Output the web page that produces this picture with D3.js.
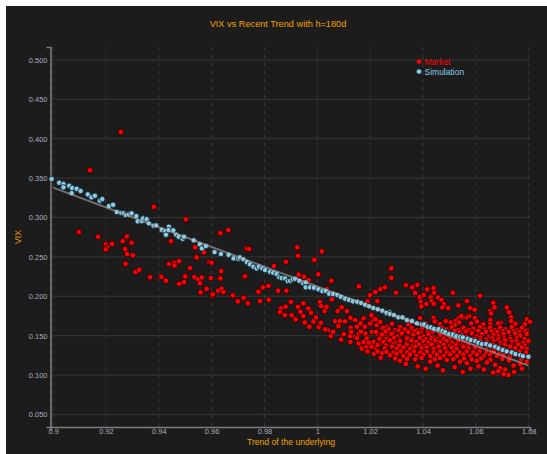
<!DOCTYPE html>
<html>
<head>
<meta charset="utf-8">
<script src="https://cdn.jsdelivr.net/npm/d3@7"></script>
<style>
  body { margin: 0; background: #fff; }
  svg { display: block; }
  text { font-family: "Liberation Sans", Arial, sans-serif; }
</style>
</head>
<body>
<div id="chart"></div>
<script>
const chartTitle = 'VIX vs Recent Trend with h=180d';
const xLabel = 'Trend of the underlying';
const yLabel = 'VIX';
const seriesNames = ['Market', 'Simulation'];
const xTicks = [0.9, 0.92, 0.94, 0.96, 0.98, 1, 1.02, 1.04, 1.06, 1.08];
const yTicks = [0.05, 0.1, 0.15, 0.2, 0.25, 0.3, 0.35, 0.4, 0.45, 0.5];

// fitted trend line at both ends
const fitX = [0.9, 1.08];
const fitY = [0.338, 0.112];

// simulation points [trend, vix]
const simulation = [
  [0.8994,0.3488],[0.9023,0.3441],[0.9039,0.3425],[0.9039,0.3383],[0.9061,0.3403],[0.9072,0.3374],[0.907,0.331],
  [0.9089,0.3365],[0.9104,0.3336],[0.9131,0.3294],[0.9145,0.3256],[0.9158,0.3276],[0.9177,0.3213],[0.9186,0.3234],
  [0.9211,0.3145],[0.9227,0.3162],[0.9241,0.3069],[0.9258,0.3057],[0.9267,0.3053],[0.9275,0.3031],[0.9286,0.304],
  [0.9297,0.3053],[0.9315,0.3018],[0.932,0.2951],[0.9335,0.2955],[0.934,0.2989],[0.9354,0.2977],[0.9362,0.2926],
  [0.938,0.2896],[0.939,0.29],[0.9411,0.2844],[0.9424,0.2824],[0.9438,0.2883],[0.9437,0.284],[0.9455,0.2837],
  [0.9427,0.2781],[0.9466,0.2781],[0.9475,0.2756],[0.949,0.273],[0.9495,0.2756],[0.9532,0.271],[0.9555,0.2659],
  [0.9563,0.2608],[0.9578,0.2637],[0.9611,0.2561],[0.9635,0.2536],[0.9664,0.2527],[0.9683,0.2481],[0.9701,0.2476],
  [0.9707,0.2494],[0.972,0.2469],[0.9733,0.2434],[0.9745,0.2405],[0.9758,0.2375],[0.977,0.2354],[0.9779,0.2375],
  [0.9792,0.2354],[0.9802,0.2333],[0.9821,0.2311],[0.9833,0.2298],[0.9846,0.2282],[0.9856,0.224],[0.9865,0.2231],
  [0.9878,0.2227],[0.9888,0.2193],[0.9897,0.2197],[0.9907,0.2214],[0.9916,0.2222],[0.9932,0.2197],[0.9947,0.2164],
  [0.9956,0.2176],[0.9956,0.2113],[0.9972,0.2113],[0.9987,0.2108],[1.0004,0.2088],[1.0019,0.2066],[1.0032,0.207],
  [1.0045,0.2032],[1.006,0.2028],[1.0076,0.2015],[1.0089,0.1994],[1.0105,0.1968],[1.012,0.1952],[1.0135,0.1935],
  [1.0151,0.193],[1.0166,0.1914],[1.0181,0.1892],[1.0196,0.1872],[1.0212,0.185],[1.0229,0.1834],[1.0246,0.1816],
  [1.0261,0.1783],[1.0274,0.1795],[1.0262,0.179],[1.0275,0.1774],[1.029,0.1761],[1.0307,0.1732],[1.0322,0.1732],
  [1.0339,0.1698],[1.0358,0.1685],[1.0377,0.1656],[1.0396,0.1647],[1.0404,0.1643],[1.0418,0.1613],[1.043,0.1605],
  [1.0442,0.1587],[1.0459,0.1583],[1.0474,0.1562],[1.0484,0.1545],[1.0499,0.152],[1.0513,0.1516],[1.0526,0.1494],
  [1.0541,0.1486],[1.0551,0.1478],[1.0569,0.146],[1.0581,0.1444],[1.0598,0.1431],[1.061,0.1409],[1.0623,0.1393],
  [1.0639,0.1393],[1.0654,0.1376],[1.0673,0.1359],[1.0686,0.1338],[1.0702,0.1317],[1.0717,0.13],[1.0736,0.1287],
  [1.075,0.1266],[1.0768,0.1253],[1.0778,0.124],[1.0799,0.1232]
];

// market points [trend, vix]
const market = [
  // sparse left part
  [0.9256,0.4085],[0.914,0.360],[0.9097,0.2815],[0.917,0.2756],[0.9199,0.266],[0.9205,0.262],[0.9199,0.2596],
  [0.9223,0.2667],[0.9263,0.270],[0.9279,0.276],[0.9297,0.268],[0.9273,0.260],[0.928,0.2536],[0.9302,0.252],
  [0.9274,0.2413],[0.9312,0.2307],[0.9326,0.2336],[0.9367,0.224],[0.9381,0.3137],[0.9409,0.2248],[0.9427,0.2197],
  [0.9438,0.2409],[0.9446,0.270],[0.9458,0.2425],[0.946,0.2392],[0.9477,0.2447],[0.9502,0.2977],[0.9518,0.2358],
  [0.95,0.2253],[0.9496,0.218],[0.9477,0.2159],[0.9534,0.2244],[0.9549,0.2215],[0.9563,0.224],[0.9543,0.2494],
  [0.9538,0.2621],[0.9571,0.2557],[0.9556,0.2164],[0.9558,0.2049],[0.9581,0.2095],[0.9591,0.2434],[0.96,0.2425],
  [0.9597,0.2231],[0.9602,0.2002],[0.9604,0.2024],[0.9633,0.2802],[0.9636,0.232],[0.9633,0.2227],[0.9625,0.207],
  [0.9638,0.2095],[0.9645,0.2053],[0.9663,0.284],[0.968,0.2011],[0.9699,0.1935],
  // middle
  [0.9733,0.2608],[0.9742,0.260],[0.9924,0.2621],[0.9927,0.2514],[1.0017,0.257],[0.9881,0.2438],[0.9989,0.2463],
  [0.9836,0.2383],[0.9726,0.2253],[1.0004,0.2278],[0.9929,0.2273],[0.995,0.2248],[0.9967,0.2206],[1.0053,0.2197],
  [0.9777,0.2057],[0.9794,0.2113],[0.9815,0.2133],[0.9852,0.207],[0.9883,0.207],[0.9721,0.1981],[0.9737,0.191],
  [0.9783,0.1939],[0.9816,0.1955],[1.0157,0.2126],[1.0199,0.2015],[1.0219,0.2053],[1.0239,0.2091],[1.0258,0.2113],
  [1.0227,0.1939],[1.019,0.1935],[1.0055,0.196],[0.99,0.193],[0.9947,0.191],[1.001,0.193],[1.0014,0.1875],
  [1.0035,0.2095],[0.9862,0.1846],[0.988,0.1867],[0.9858,0.18],[0.9877,0.176],[0.9903,0.176],[0.9926,0.1867],
  [0.9936,0.1803],[0.9947,0.1748],[0.9918,0.1707],[0.9966,0.1846],[0.9976,0.179],[0.9995,0.1732],[0.9952,0.1668],
  [0.9985,0.1681],[0.997,0.1613],[1.0005,0.1609],[1.0014,0.1663],[1.0028,0.1812],[1.0035,0.1867],[1.004,0.1571],
  [1.0051,0.1494],[1.0067,0.1685],[1.0085,0.1685],[1.0077,0.1812],[1.0092,0.1859],[1.0112,0.1812],[1.0125,0.1727],
  [1.0143,0.1698],[1.0126,0.16],[1.015,0.1613],[1.0124,0.1494],[1.0143,0.1486],[1.0156,0.152],[1.0128,0.1549],
  [1.0168,0.1338],[1.0187,0.1359],[1.0164,0.1655],[1.018,0.1613],[1.02,0.1655],[1.0212,0.1697],[1.0225,0.1634],
  [1.0238,0.1676],[1.0244,0.1592],[1.0263,0.1613],[1.0206,0.1549],[1.0225,0.1528],[1.025,0.1486],[1.0269,0.1528],
  [1.0187,0.1465],[1.0212,0.1422],[1.0238,0.1401],[1.0263,0.138],[1.0181,0.1528],[1.0156,0.1401],[1.0215,0.127],
  [1.024,0.122],[1.019,0.13],
  [1.003,0.158],[1.006,0.155],[1.008,0.162],[1.01,0.152],[1.009,0.145],[1.0125,0.142],[1.015,0.147],[1.0175,0.142],
  [1.0165,0.155],[1.0105,0.168],[1.0175,0.172],[1.0205,0.176],[1.022,0.171],[1.0195,0.141],[1.0222,0.134],
  [1.0205,0.136],[1.0245,0.128],[1.0228,0.13],
  // upper edge of the right cluster
  [1.028,0.2354],[1.028,0.2235],[1.0256,0.2113],[1.0298,0.2044],[1.0335,0.2142],[1.0359,0.2113],[1.0379,0.2146],
  [1.037,0.2044],[1.0402,0.2015],[1.0416,0.2088],[1.044,0.2104],[1.0442,0.2044],[1.0391,0.1939],[1.0387,0.199],
  [1.0429,0.1986],[1.0433,0.1939],[1.0457,0.1986],[1.047,0.1952],[1.0479,0.1901],[1.0441,0.1905],[1.0513,0.2044],
  [1.0394,0.1872],[1.0413,0.1901],[1.0473,0.1859],[1.0495,0.185],[1.0534,0.1884],[1.0566,0.1939],[1.0616,0.2006],
  [1.0578,0.185],[1.0595,0.1829],[1.0666,0.1918],[1.0671,0.1859],[1.0717,0.1859],[1.0654,0.1812],[1.0658,0.1783],
  [1.0726,0.1795],[1.0734,0.1732],[1.0734,0.1685],[1.0694,0.1663],[1.0655,0.1698],[1.0655,0.1643],[1.0793,0.1707],
  [1.0805,0.1676],[1.0597,0.172],[1.0604,0.1681],[1.0575,0.1748],[1.0564,0.1732],[1.0551,0.1732],[1.0536,0.1727],
  [1.0545,0.1748],[1.044,0.1727],[1.0444,0.1681],[1.0389,0.1723],[1.0486,0.1685],[1.0506,0.1668],[1.0525,0.1689],
  [1.0536,0.1668],
  // dense band
  [1.0283,0.165],[1.0345,0.1645],[1.041,0.1655],[1.0465,0.1645],[1.052,0.1635],[1.0582,0.1655],[1.0628,0.1645],
  [1.0685,0.1655],[1.075,0.165],[1.0785,0.1645],
  [1.025,0.160],[1.0269,0.158],[1.0294,0.157],[1.0313,0.161],[1.0332,0.158],[1.0357,0.160],[1.0376,0.157],
  [1.0395,0.159],[1.0427,0.161],[1.0452,0.157],[1.0471,0.160],[1.049,0.158],[1.0509,0.161],[1.0534,0.157],
  [1.0553,0.160],[1.0572,0.157],[1.0591,0.159],[1.0616,0.161],[1.0635,0.158],[1.0654,0.160],[1.0673,0.157],
  [1.0692,0.160],[1.0711,0.158],[1.0736,0.161],[1.0755,0.157],[1.0774,0.160],[1.0793,0.157],
  [1.0222,0.155],[1.0258,0.1555],[1.0286,0.154],[1.031,0.1565],[1.0345,0.1545],[1.0368,0.1555],[1.0392,0.154],
  [1.0418,0.156],[1.0436,0.1548],[1.046,0.1553],[1.0495,0.1545],[1.052,0.1558],[1.054,0.1542],[1.0562,0.1555],
  [1.059,0.1545],[1.061,0.156],[1.0638,0.1548],[1.066,0.1555],[1.068,0.1543],[1.0702,0.1558],[1.0725,0.1547],
  [1.0745,0.156],[1.0765,0.1545],[1.0788,0.1555],
  [1.0244,0.151],[1.0263,0.148],[1.0282,0.152],[1.0301,0.149],[1.032,0.153],[1.0338,0.148],[1.0364,0.151],
  [1.0383,0.153],[1.0402,0.149],[1.0421,0.152],[1.044,0.148],[1.0465,0.151],[1.0484,0.149],[1.0503,0.152],
  [1.0522,0.148],[1.0547,0.151],[1.0566,0.149],[1.0585,0.153],[1.0604,0.149],[1.0623,0.152],[1.0648,0.148],
  [1.0667,0.151],[1.0686,0.149],[1.0705,0.152],[1.073,0.148],[1.0749,0.153],[1.0768,0.150],[1.0793,0.152],
  [1.0235,0.146],[1.0262,0.1455],[1.029,0.1468],[1.0312,0.1452],[1.034,0.1465],[1.036,0.1455],[1.0388,0.147],
  [1.041,0.1455],[1.0432,0.1466],[1.0455,0.1452],[1.0478,0.1463],[1.05,0.1457],[1.0525,0.1468],[1.0548,0.1453],
  [1.0572,0.1465],[1.0595,0.1455],[1.0618,0.147],[1.064,0.1455],[1.0663,0.1465],[1.0685,0.1452],[1.0708,0.1467],
  [1.0732,0.1455],[1.0755,0.1466],[1.0785,0.1458],
  [1.025,0.142],[1.0275,0.144],[1.0294,0.141],[1.0313,0.143],[1.0338,0.141],[1.0357,0.144],[1.0376,0.142],
  [1.0402,0.143],[1.0421,0.141],[1.0446,0.144],[1.0465,0.142],[1.049,0.143],[1.0509,0.141],[1.0534,0.144],
  [1.0553,0.142],[1.0579,0.143],[1.0598,0.141],[1.0616,0.144],[1.0642,0.142],[1.0667,0.143],[1.0692,0.141],
  [1.0711,0.144],[1.0736,0.142],[1.0755,0.143],[1.078,0.141],[1.0799,0.143],
  [1.0228,0.138],[1.026,0.1375],[1.0285,0.139],[1.031,0.1373],[1.0338,0.1388],[1.0362,0.1375],[1.0385,0.1385],
  [1.0408,0.1372],[1.0432,0.1388],[1.0455,0.1376],[1.048,0.1385],[1.0503,0.1372],[1.0526,0.1387],[1.0548,0.1376],
  [1.0572,0.1388],[1.0594,0.1373],[1.0618,0.1386],[1.064,0.1375],[1.0665,0.1388],[1.0688,0.1374],[1.071,0.1385],
  [1.0735,0.1375],[1.076,0.1388],[1.0785,0.1377],
  [1.0256,0.134],[1.0282,0.136],[1.0301,0.133],[1.0326,0.135],[1.0351,0.133],[1.037,0.136],[1.0395,0.134],
  [1.0414,0.135],[1.044,0.133],[1.0459,0.136],[1.0484,0.134],[1.0509,0.135],[1.0528,0.133],[1.0553,0.136],
  [1.0572,0.134],[1.0598,0.135],[1.0616,0.133],[1.0642,0.136],[1.0661,0.134],[1.0686,0.135],[1.0705,0.133],
  [1.073,0.136],[1.0749,0.134],[1.0774,0.135],[1.0793,0.133],
  [1.0262,0.1295],[1.0288,0.1285],[1.0315,0.13],[1.034,0.1288],[1.0365,0.13],[1.039,0.1287],[1.0415,0.1298],
  [1.044,0.1285],[1.0465,0.13],[1.049,0.1288],[1.0515,0.1297],[1.054,0.1285],[1.0565,0.1298],[1.059,0.1287],
  [1.0615,0.13],[1.064,0.1285],[1.0668,0.1297],[1.0692,0.1287],[1.0718,0.1295],[1.0742,0.1285],[1.0765,0.1298],
  [1.079,0.1288],
  [1.0275,0.125],[1.03,0.127],[1.0326,0.124],[1.0351,0.126],[1.0376,0.124],[1.0402,0.126],[1.0427,0.124],
  [1.0452,0.126],[1.0478,0.124],[1.0503,0.126],[1.0528,0.124],[1.0553,0.126],[1.0579,0.124],[1.0604,0.126],
  [1.0629,0.124],[1.0654,0.126],[1.068,0.124],[1.0705,0.126],[1.073,0.124],[1.0755,0.126],[1.078,0.124],
  [1.0295,0.121],[1.034,0.1205],[1.0395,0.1215],[1.0445,0.12],[1.0465,0.1215],[1.0515,0.12],[1.0555,0.121],
  [1.0585,0.1198],[1.062,0.121],[1.0655,0.1195],[1.07,0.1205],[1.0725,0.1185],[1.0772,0.12],[1.0798,0.121],
  [1.0313,0.118],[1.037,0.120],[1.0427,0.117],[1.049,0.119],[1.054,0.117],[1.0566,0.115],[1.0604,0.118],
  [1.0642,0.116],[1.0673,0.113],[1.0692,0.109],[1.0711,0.107],[1.0724,0.1],[1.0743,0.112],[1.0768,0.114],
  [1.0793,0.117],
  [1.038,0.111],[1.0455,0.112],[1.052,0.11],[1.058,0.108],[1.063,0.107],[1.0665,0.103],[1.0705,0.101],
  [1.0335,0.114],[1.041,0.108],[1.0475,0.106],[1.055,0.104],[1.061,0.111],[1.0685,0.105],[1.0745,0.104],
  [1.0775,0.108]
];

const width = 547;
const height = 454;
const plot = { left: 50.5, right: 530, top: 47, bottom: 427 };

const svg = d3.select('#chart').append('svg')
  .attr('width', width)
  .attr('height', height);

svg.append('rect')
  .attr('x', 6)
  .attr('y', 6)
  .attr('width', width - 6)
  .attr('height', height - 6)
  .attr('fill', '#1c1c1c');

const x = d3.scaleLinear().domain([0.899, 1.0805]).range([plot.left, plot.right]);
const y = d3.scaleLinear().domain([0.034, 0.5165]).range([plot.bottom, plot.top]);

// grid
svg.append('g').classed('grid-y', true)
  .selectAll('line')
  .data(yTicks)
  .enter()
  .append('line')
  .attr('x1', plot.left)
  .attr('x2', plot.right)
  .attr('y1', d => y(d))
  .attr('y2', d => y(d))
  .style('stroke', '#353535')
  .style('stroke-width', 1);

svg.append('g').classed('grid-x', true)
  .selectAll('line')
  .data(xTicks)
  .enter()
  .append('line')
  .attr('x1', d => x(d))
  .attr('x2', d => x(d))
  .attr('y1', plot.top)
  .attr('y2', plot.bottom)
  .style('stroke', '#383838')
  .style('stroke-width', 1)
  .style('stroke-dasharray', '4,4');

// axes
const xAxis = svg.append('g')
  .attr('transform', `translate(0, ${plot.bottom})`)
  .call(d3.axisBottom(x).tickValues(xTicks).tickFormat(d3.format('~g')).tickSizeInner(0).tickSizeOuter(4).tickPadding(2));
const yAxis = svg.append('g')
  .attr('transform', `translate(${plot.left}, 0)`)
  .call(d3.axisLeft(y).tickValues(yTicks).tickFormat(d3.format('.3f')).tickSizeInner(0).tickSizeOuter(4).tickPadding(3));

[xAxis, yAxis].forEach(a => {
  a.select('.domain').style('stroke', '#7d7d7d').style('stroke-width', 1.6);
  a.selectAll('text')
    .style('fill', '#a7afbd')
    .style('font-size', '7.5px')
    .style('font-family', '"Liberation Sans", Arial, sans-serif');
});

// points
svg.append('g').classed('market', true)
  .selectAll('circle')
  .data(market)
  .enter()
  .append('circle')
  .attr('cx', d => x(d[0]))
  .attr('cy', d => y(d[1]))
  .attr('r', 2.8)
  .style('fill', '#ff0000')
  .style('stroke', '#2a0000')
  .style('stroke-width', 0.9);

svg.append('g').classed('simulation', true)
  .selectAll('circle')
  .data(simulation)
  .enter()
  .append('circle')
  .attr('cx', d => x(d[0]))
  .attr('cy', d => y(d[1]))
  .attr('r', 2.7)
  .style('fill', '#87ceeb')
  .style('stroke', '#1d2a30')
  .style('stroke-width', 0.9);

// fitted line
const line = d3.line().x(d => x(d[0])).y(d => y(d[1]));
svg.append('path')
  .datum(fitX.map((v, i) => [v, fitY[i]]))
  .attr('d', line)
  .style('fill', 'none')
  .style('stroke', '#b5b5b5')
  .style('stroke-opacity', 0.55)
  .style('stroke-width', 2);

// titles
svg.append('text')
  .attr('x', 278)
  .attr('y', 27)
  .attr('text-anchor', 'middle')
  .style('fill', '#f0a000')
  .style('font-size', '9.2px')
  .text(chartTitle);

svg.append('text')
  .attr('x', 291)
  .attr('y', 445)
  .attr('text-anchor', 'middle')
  .style('fill', '#f0a000')
  .style('font-size', '8.6px')
  .text(xLabel);

svg.append('text')
  .attr('transform', 'translate(21, 237) rotate(-90)')
  .attr('text-anchor', 'middle')
  .style('fill', '#f0a000')
  .style('font-size', '8.6px')
  .text(yLabel);

// legend
const legendColors = ['#ff0000', '#87ceeb'];
const legend = svg.append('g').attr('transform', 'translate(419, 61.5)');
seriesNames.forEach((name, i) => {
  legend.append('circle')
    .attr('cx', 0)
    .attr('cy', i * 10)
    .attr('r', 2.6)
    .style('fill', legendColors[i])
    .style('stroke', '#222')
    .style('stroke-width', 0.6);
  legend.append('text')
    .attr('x', 5.5)
    .attr('y', i * 10 + 3)
    .style('fill', legendColors[i])
    .style('font-size', '8.5px')
    .text(name);
});
</script>
</body>
</html>
